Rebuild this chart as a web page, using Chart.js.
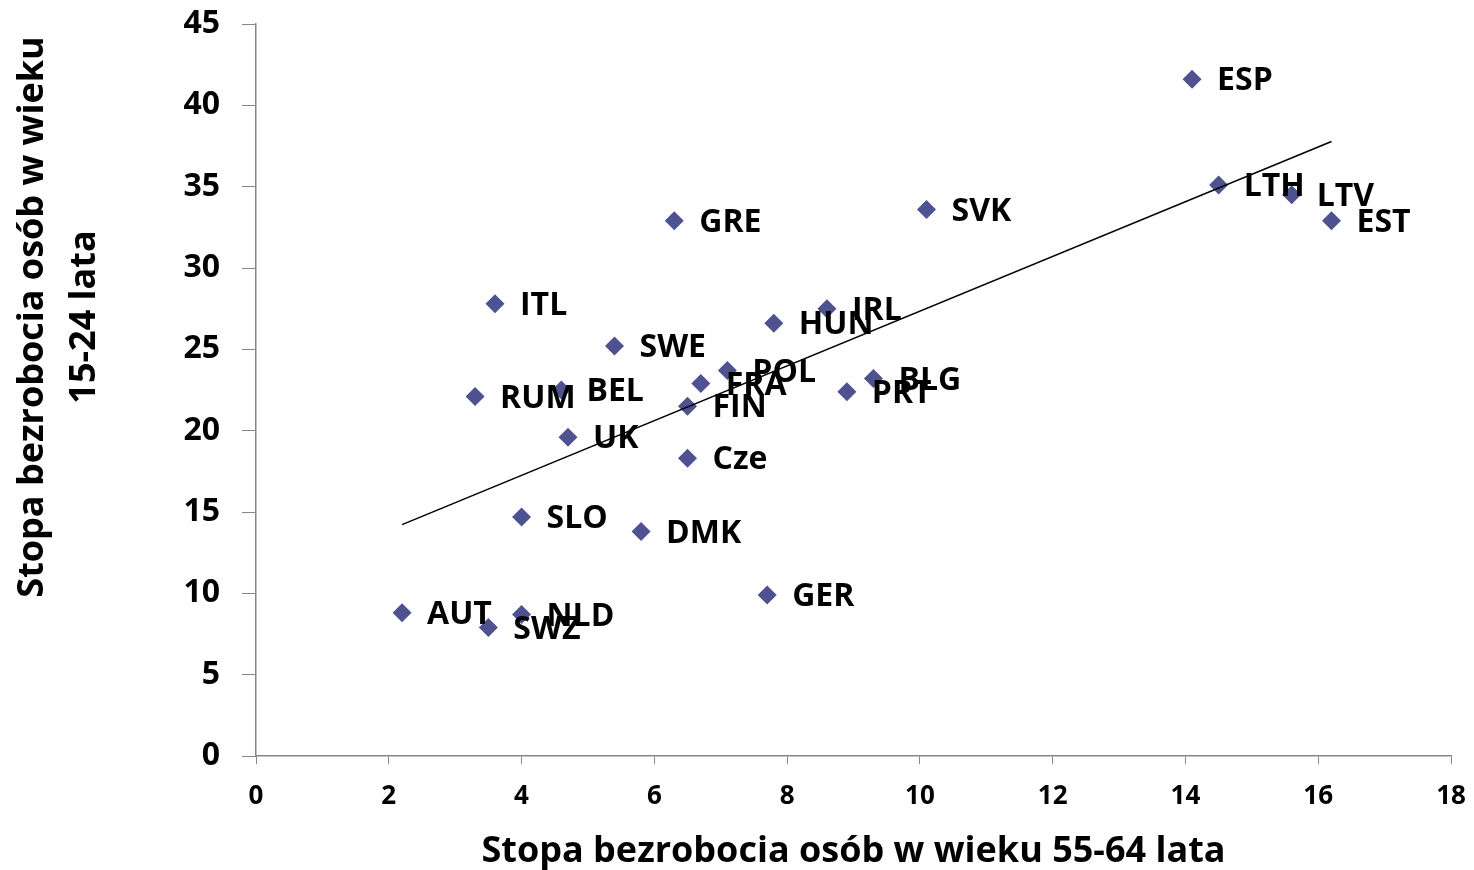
<!DOCTYPE html>
<html>
<head>
<meta charset="utf-8">
<script src="https://cdn.jsdelivr.net/npm/chart.js@4.4.0/dist/chart.umd.min.js"></script>
<style>
  html, body { margin: 0; padding: 0; background: #fff; }
  #wrap { width: 1474px; height: 870px; }
</style>
</head>
<body>
<div id="wrap"><canvas id="chart" width="1474" height="870"></canvas></div>
<script>
const countries = ["ESP", "LTH", "LTV", "EST", "SVK", "GRE", "ITL", "SWE", "HUN", "IRL", "POL", "FRA", "FIN",
  "BLG", "PRT", "RUM", "BEL", "UK", "Cze", "SLO", "DMK", "GER", "AUT", "NLD", "SWZ"];
const older = [14.1, 14.5, 15.6, 16.2, 10.1, 6.3, 3.6, 5.4, 7.8, 8.6, 7.1, 6.7, 6.5,
  9.3, 8.9, 3.3, 4.6, 4.7, 6.5, 4.0, 5.8, 7.7, 2.2, 4.0, 3.5];
const young = [41.6, 35.1, 34.5, 32.9, 33.6, 32.9, 27.8, 25.2, 26.6, 27.5, 23.7, 22.9, 21.5,
  23.2, 22.4, 22.1, 22.5, 19.6, 18.3, 14.7, 13.8, 9.9, 8.8, 8.7, 7.9];

const xTitle = "Stopa bezrobocia osób w wieku 55-64 lata";
const yTitle = ["Stopa bezrobocia osób w wieku", "15-24 lata"];

const FONT = "'Open Sans', 'DejaVu Sans', sans-serif";

// linear trend (least squares), like Excel's trendline
const n = older.length;
const mx = older.reduce((a, b) => a + b, 0) / n;
const my = young.reduce((a, b) => a + b, 0) / n;
let sxy = 0, sxx = 0;
for (let i = 0; i < n; i++) {
  sxy += (older[i] - mx) * (young[i] - my);
  sxx += (older[i] - mx) ** 2;
}
const slope = sxy / sxx;
const icpt = my - slope * mx;
const xMin = Math.min(...older), xMax = Math.max(...older);
const trend = [xMin, xMax].map(x => ({ x, y: icpt + slope * x }));

const points = older.map((x, i) => ({ x, y: young[i] }));

const labelPlugin = {
  id: "labels",
  afterDatasetsDraw(chart) {
    const ctx = chart.ctx;
    const meta = chart.getDatasetMeta(1);
    ctx.save();
    ctx.font = "bold 32px " + FONT;
    ctx.fillStyle = "#000";
    ctx.textBaseline = "middle";
    ctx.textAlign = "left";
    meta.data.forEach((el, i) => {
      ctx.fillText(countries[i], el.x + 25, el.y + 2);
    });
    ctx.restore();
  },
  afterDraw(chart) {
    const ctx = chart.ctx;
    const area = chart.chartArea;
    ctx.save();
    ctx.fillStyle = "#000";
    ctx.font = "bold 36px " + FONT;
    ctx.textAlign = "center";
    ctx.textBaseline = "middle";
    ctx.fillText(xTitle, (area.left + area.right) / 2, 852);
    ctx.translate(0, 317);
    ctx.rotate(-Math.PI / 2);
    ctx.fillText(yTitle[0], 0, 33);
    ctx.fillText(yTitle[1], 0, 85);
    ctx.restore();
  }
};

new Chart(document.getElementById("chart"), {
  type: "scatter",
  data: {
    datasets: [
      {
        type: "line",
        data: trend,
        borderColor: "#000",
        borderWidth: 1.5,
        pointRadius: 0,
        fill: false
      },
      {
        data: points,
        pointStyle: "rectRot",
        pointRadius: 9.5,
        pointHoverRadius: 9.5,
        backgroundColor: "#4F5290",
        borderColor: "#4F5290",
        borderWidth: 0
      }
    ]
  },
  options: {
    responsive: false,
    animation: false,
    layout: { padding: { left: 0, top: 24, right: 23, bottom: 0 } },
    plugins: {
      legend: { display: false },
      tooltip: { enabled: false }
    },
    scales: {
      x: {
        type: "linear",
        min: 0,
        max: 18,
        ticks: { stepSize: 2, color: "#000", font: { family: FONT, size: 26, weight: "bold" }, padding: 17 },
        grid: { drawOnChartArea: false, drawTicks: true, tickLength: 8, color: "#868686" },
        border: { color: "#868686", width: 1.5 },
        afterFit: s => { s.height = 114; s.paddingLeft = 0; s.paddingRight = 0; }
      },
      y: {
        min: 0,
        max: 45,
        ticks: { stepSize: 5, color: "#000", font: { family: FONT, size: 32, weight: "bold" }, padding: 22 },
        grid: { drawOnChartArea: false, drawTicks: true, tickLength: 14, color: "#868686" },
        border: { color: "#868686", width: 1.5 },
        afterFit: s => { s.width = 256; s.paddingTop = 0; s.paddingBottom = 0; }
      }
    }
  },
  plugins: [labelPlugin]
});
</script>
</body>
</html>
